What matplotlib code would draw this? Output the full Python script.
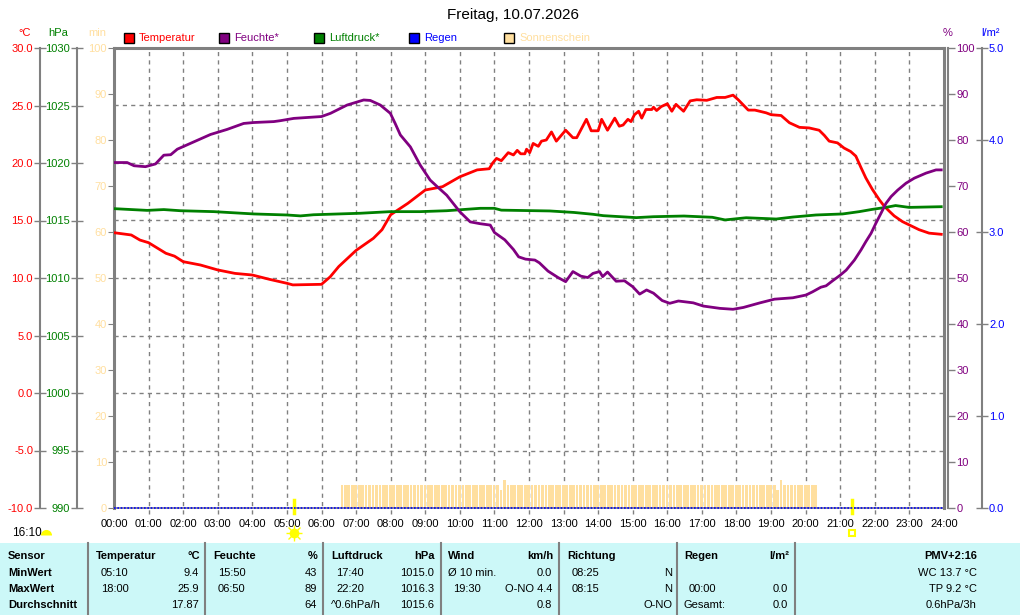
import numpy as np
import matplotlib
matplotlib.use("Agg")
import matplotlib.pyplot as plt
from matplotlib.patches import Rectangle
from matplotlib.lines import Line2D

plt.rcParams['font.family'] = ['Liberation Sans', 'DejaVu Sans']

# --- Daten (Stunden seit Mitternacht) ---
temp_h = [0, 0.5, 0.75, 1.0, 1.5, 1.75, 2.0, 2.5, 3.0, 3.5,
          4.0, 4.5, 5.0, 5.17, 6.0, 6.25, 6.5, 7.0, 7.5, 7.75,
          8.0, 8.5, 9.0, 9.5, 10.0, 10.5, 10.85, 10.95, 11.06, 11.2,
          11.4, 11.55, 11.66, 11.76, 11.88, 11.93, 12.02, 12.12, 12.27, 12.36,
          12.5, 12.65, 12.79, 13.06, 13.27, 13.38, 13.66, 13.8, 14.0, 14.1,
          14.27, 14.48, 14.61, 14.72, 14.86, 14.95, 15.05, 15.17, 15.26, 15.38,
          15.55, 15.6, 15.69, 15.82, 16.0, 16.13, 16.25, 16.47, 16.66, 16.85,
          17.14, 17.43, 17.67, 17.9, 18.05, 18.34, 18.53, 18.67, 18.86, 19.0,
          19.29, 19.53, 19.82, 20.1, 20.39, 20.54, 20.68, 20.92, 21.11, 21.3,
          21.45, 21.6, 21.74, 21.93, 22.13, 22.27, 22.42, 22.56, 22.8, 23.04,
          23.28, 23.57, 23.92]
temp_c = [13.94, 13.74, 13.3, 13.07, 12.15, 11.9, 11.42, 11.13, 10.7, 10.4,
          10.26, 9.88, 9.54, 9.4, 9.45, 10.1, 11.0, 12.4, 13.45, 14.2,
          15.5, 16.5, 17.65, 17.94, 18.8, 19.4, 19.5, 20.0, 20.4, 20.2,
          20.9, 20.7, 21.1, 20.8, 20.8, 21.2, 20.9, 21.7, 21.45, 21.9,
          22.0, 22.7, 21.9, 22.85, 22.2, 22.2, 23.8, 22.8, 22.8, 23.8,
          22.85, 23.9, 23.2, 23.3, 23.8, 23.6, 24.2, 24.5, 23.9, 24.65,
          24.65, 24.85, 24.56, 24.9, 25.15, 24.5, 25.1, 24.5, 25.4, 25.5,
          25.45, 25.7, 25.7, 25.9, 25.5, 24.6, 24.6, 24.5, 24.36, 24.2,
          24.13, 23.5, 23.1, 23.05, 22.85, 22.4, 21.9, 21.75, 21.3, 21.0,
          20.6, 19.6, 18.7, 17.7, 16.8, 16.25, 15.8, 15.4, 14.9, 14.55,
          14.2, 13.9, 13.8]

hum_h = [0, 0.38, 0.58, 0.91, 1.2, 1.44, 1.64, 1.83, 2.31, 2.79,
         3.27, 3.75, 4.04, 4.62, 4.81, 5.2, 6.0, 6.26, 6.74, 7.22,
         7.41, 7.7, 7.99, 8.13, 8.28, 8.57, 8.85, 9.14, 9.34, 9.62,
         10.0, 10.3, 10.59, 10.88, 11.0, 11.3, 11.55, 11.7, 11.9, 12.17,
         12.3, 12.55, 12.84, 13.06, 13.27, 13.5, 13.7, 13.85, 14.04, 14.13,
         14.27, 14.52, 14.76, 15.0, 15.2, 15.4, 15.6, 15.85, 16.07, 16.32,
         16.75, 17.04, 17.52, 17.9, 18.2, 18.68, 19.1, 19.63, 20.01, 20.2,
         20.44, 20.59, 20.78, 20.98, 21.17, 21.41, 21.6, 21.74, 21.89, 22.03,
         22.18, 22.32, 22.47, 22.66, 22.9, 23.14, 23.48, 23.77, 23.92]
hum_pct = [75.1, 75.1, 74.4, 74.2, 74.8, 76.7, 76.8, 78.0, 79.6, 81.2,
           82.3, 83.6, 83.8, 84.0, 84.2, 84.7, 85.1, 85.8, 87.6, 88.7,
           88.6, 87.6, 85.8, 83.6, 81.1, 78.5, 74.6, 71.3, 69.9, 68.0,
           64.4, 62.2, 61.8, 61.5, 59.9, 58.3, 56.2, 54.6, 54.1, 53.9,
           53.3, 51.5, 50.1, 49.2, 51.4, 50.4, 50.1, 51.0, 51.4, 50.3,
           51.3, 49.3, 49.4, 48.1, 46.5, 47.4, 46.7, 45.1, 44.5, 45.0,
           44.6, 43.9, 43.4, 43.2, 43.6, 44.6, 45.4, 45.7, 46.3, 47.0,
           48.0, 48.3, 49.4, 50.5, 51.7, 53.9, 56.1, 57.9, 59.7, 61.9,
           64.1, 66.2, 67.7, 69.1, 70.6, 71.7, 72.8, 73.5, 73.5]

pres_h = [0, 0.96, 1.44, 1.92, 2.89, 4.04, 5.0, 5.39, 5.77, 7.12,
          7.99, 8.85, 9.62, 10.59, 11.0, 11.2, 12.6, 13.3, 13.85, 14.15,
          15.1, 15.6, 16.48, 17.3, 17.67, 18.28, 19.15, 19.63, 20.3, 21.07,
          21.55, 21.93, 22.32, 22.6, 22.99, 23.92]
pres_hpa = [1016.03, 1015.88, 1015.95, 1015.85, 1015.77, 1015.57, 1015.48, 1015.4, 1015.5, 1015.63,
            1015.77, 1015.77, 1015.85, 1016.06, 1016.06, 1015.9, 1015.83, 1015.7, 1015.54, 1015.42,
            1015.25, 1015.33, 1015.39, 1015.28, 1015.05, 1015.24, 1015.13, 1015.3, 1015.48, 1015.57,
            1015.77, 1015.97, 1016.14, 1016.3, 1016.14, 1016.2]

rain_h = [0, 24]
rain_mm = [0.0, 0.0]

# Sonnenschein: 6-Minuten-Intervalle ab 06:33
sun_start_h = 6.55
sun_step_h = 0.1
sun_min = [5, 5, 5, 5, 5, 5, 5, 5, 5, 5,
           5, 5, 5, 5, 5, 5, 5, 5, 5, 5,
           5, 5, 5, 5, 5, 5, 5, 5, 5, 5,
           5, 5, 5, 5, 5, 5, 5, 5, 5, 5,
           5, 5, 5, 5, 5, 5, 4, 6, 5, 5,
           5, 5, 5, 5, 5, 5, 5, 5, 5, 5,
           5, 5, 5, 5, 5, 5, 5, 5, 5, 5,
           5, 5, 5, 5, 5, 5, 5, 5, 5, 5,
           5, 5, 5, 5, 5, 5, 5, 5, 5, 5,
           5, 5, 5, 5, 5, 5, 5, 5, 5, 5,
           5, 5, 5, 5, 5, 5, 5, 5, 5, 5,
           5, 5, 5, 5, 5, 5, 5, 5, 5, 5,
           5, 5, 5, 5, 5, 5, 4, 6, 5, 5,
           5, 5, 5, 5, 5, 5, 5, 5]

sunrise_h = 5.2
sunset_h = 21.33
day_length = "16:10"
title = "Freitag, 10.07.2026"

hour_labels = ["%02d:00" % h for h in range(25)]
temp_ticks = [-10, -5, 0, 5, 10, 15, 20, 25, 30]
pres_ticks = [990, 995, 1000, 1005, 1010, 1015, 1020, 1025, 1030]
pct_ticks = [0, 10, 20, 30, 40, 50, 60, 70, 80, 90, 100]
rain_ticks = [0, 1, 2, 3, 4, 5]

table_header = ["Sensor", "Temperatur", "°C", "Feuchte", "%", "Luftdruck", "hPa",
                "Wind", "km/h", "Richtung", "Regen", "l/m²", "PMV+2:16"]
row_names = ["MinWert", "MaxWert", "Durchschnitt"]
temp_stats = [("05:10", "9.4"), ("18:00", "25.9"), ("", "17.87")]
hum_stats = [("15:50", "43"), ("06:50", "89"), ("", "64")]
pres_stats = [("17:40", "1015.0"), ("22:20", "1016.3"), ("^0.6hPa/h", "1015.6")]
wind_stats = [("Ø 10 min.", "0.0"), ("19:30", "O-NO 4.4"), ("", "0.8")]
dir_stats = [("08:25", "N"), ("08:15", "N"), ("", "O-NO")]
rain_stats = [("", ""), ("00:00", "0.0"), ("Gesamt:", "0.0")]
pmv_stats = ["WC 13.7 °C", "TP 9.2 °C", "0.6hPa/3h"]

C_T = '#ff0000'
C_H = '#800080'
C_P = '#008000'
C_R = '#0000ff'
C_S = '#ffdf9f'
GRAY = '#808080'

W, H = 1024, 615
fig = plt.figure(figsize=(W / 100, H / 100), dpi=100)


def fx(x):
    return x / W


def fy(y):
    return 1 - y / H


ax = fig.add_axes([fx(114), fy(508), (944 - 114) / W, 460 / H])
ax.set_xlim(0, 24)
ax.set_ylim(0, 100)

# Sonnenschein-Balken
sun_h = sun_start_h + sun_step_h * np.arange(len(sun_min))
ax.bar(sun_h, sun_min, width=0.08, align='edge', color=C_S, zorder=1)

# Gitter
for t in temp_ticks[1:-1]:
    ax.axhline((t + 10) / 40 * 100, color=GRAY, lw=1, ls=(0, (3, 3)), zorder=0)
for h in range(1, 24):
    ax.plot([h, h], [-0.012, 1], transform=ax.get_xaxis_transform(), color=GRAY,
            lw=1, ls=(0, (3, 3)), clip_on=False, zorder=0)

ax.set_xticks(range(25), hour_labels)
ax.tick_params(axis='x', length=0, pad=8, labelsize=8)
ax.set_yticks(pct_ticks)
ax.tick_params(axis='y', colors=GRAY, labelcolor=C_S, direction='out', length=4,
               labelsize=8, pad=1)
for s in ['top', 'left', 'right']:
    ax.spines[s].set_color(GRAY)
    ax.spines[s].set_linewidth(2.2)
ax.spines['bottom'].set_color(GRAY)
ax.spines['bottom'].set_linewidth(1.2)


def side_axis(side, pos, color, lim, ticks, labels):
    a = ax.twinx()
    a.set_ylim(lim)
    for s in a.spines.values():
        s.set_visible(False)
    sp = a.spines[side]
    sp.set_visible(True)
    sp.set_position(pos)
    sp.set_color(GRAY)
    sp.set_linewidth(1.5)
    a.yaxis.set_ticks_position(side)
    a.yaxis.set_label_position(side)
    a.set_yticks(ticks, labels)
    a.tick_params(axis='y', colors=GRAY, labelcolor=color, direction='inout',
                  length=8, width=1, labelsize=8, pad=1)
    a.patch.set_visible(False)
    return a


ax_t = side_axis('left', ('axes', (40 - 114) / 830), C_T, (-10, 30), temp_ticks,
                 ["%.1f" % t for t in temp_ticks])
ax_p = side_axis('left', ('axes', (77 - 114) / 830), C_P, (990, 1030), pres_ticks,
                 [str(p) for p in pres_ticks])
ax_h = side_axis('right', ('outward', 3), C_H, (0, 100), pct_ticks,
                 [str(p) for p in pct_ticks])
ax_h.tick_params(axis='y', direction='out', length=5)
ax_r = side_axis('right', ('axes', (982 - 114) / 830), C_R, (0, 5), rain_ticks,
                 ["%.1f" % r for r in rain_ticks])

ax_r.plot(rain_h, rain_mm, color=C_R, lw=1.2, ls=(0, (1, 1)), clip_on=False)
ax_p.plot(pres_h, pres_hpa, color=C_P, lw=2)
ax_h.plot(hum_h, hum_pct, color=C_H, lw=2)
ax_t.plot(temp_h, temp_c, color=C_T, lw=2)
for a in (ax_t, ax_p, ax_h, ax_r):
    a.set_xlim(0, 24)

# Sonnenaufgang / -untergang
tr = ax.get_xaxis_transform()
for h in (sunrise_h, sunset_h):
    ax.plot([h, h], [0.017, -0.011], transform=tr, color='#ffff00', lw=2.5,
            clip_on=False, zorder=5)
ax.plot([sunrise_h], [-0.054], transform=tr, marker='o', ms=6, color='#ffff00',
        clip_on=False)
ax.plot([sunrise_h], [-0.054], transform=tr, marker='+', ms=11, mew=1, color='#ffff00',
        clip_on=False)
ax.plot([sunrise_h], [-0.054], transform=tr, marker='x', ms=8, mew=1, color='#ffff00',
        clip_on=False)
ax.plot([sunset_h], [-0.054], transform=tr, marker='s', ms=5, mfc='none', mec='#ffff00',
        mew=1.5, clip_on=False)

# Titel, Einheiten, Legende
fig.text(fx(513), fy(15), title, ha='center', va='center', fontsize=11)
fig.text(fx(25), fy(33), "°C", color=C_T, ha='center', va='center', fontsize=8)
fig.text(fx(58), fy(33), "hPa", color=C_P, ha='center', va='center', fontsize=8)
fig.text(fx(97), fy(33), "min", color=C_S, ha='center', va='center', fontsize=8)
fig.text(fx(948), fy(33), "%", color=C_H, ha='center', va='center', fontsize=8)
fig.text(fx(991), fy(33), "l/m²", color=C_R, ha='center', va='center', fontsize=8)

legend = [("Temperatur", C_T, 124), ("Feuchte*", C_H, 219), ("Luftdruck*", C_P, 314),
          ("Regen", C_R, 409), ("Sonnenschein", C_S, 504)]
for name, col, x0 in legend:
    fig.add_artist(Rectangle((fx(x0), fy(43)), 10 / W, 10 / H, transform=fig.transFigure,
                             facecolor=col, edgecolor='black', lw=1))
    fig.text(fx(x0 + 15), fy(38), name, color=col, ha='left', va='center', fontsize=8)

# Tageslaenge
fig.text(fx(12), fy(533), day_length, ha='left', va='center', fontsize=8.5)
fig.add_artist(Line2D([fx(46)], [fy(535)], transform=fig.transFigure, marker='o', ms=8,
                      color='#ffff00', fillstyle='top', mfc='#ffff00', mfcalt='none',
                      mew=0, ls='none'))

# Tabelle
fig.add_artist(Rectangle((0, 0), fx(1020), fy(543), transform=fig.transFigure,
                         facecolor='#ccf8f8', edgecolor='none', zorder=-1))
for xs in [88, 205, 323, 441, 559, 677, 795]:
    fig.add_artist(Line2D([fx(xs), fx(xs)], [fy(543), 0], transform=fig.transFigure,
                          color=GRAY, lw=1.5))

rows_y = [573, 589, 605]
hy = 556
fs = 8
fig.text(fx(8), fy(hy), table_header[0], fontweight='bold', va='center', fontsize=fs)
for name, y in zip(row_names, rows_y):
    fig.text(fx(8), fy(y), name, fontweight='bold', va='center', fontsize=fs)

blocks = [(96, 200, table_header[1], table_header[2], temp_stats),
          (213, 318, table_header[3], table_header[4], hum_stats),
          (331, 435, table_header[5], table_header[6], pres_stats),
          (448, 553, table_header[7], table_header[8], wind_stats),
          (567, 673, table_header[9], "", dir_stats),
          (684, 789, table_header[10], table_header[11], rain_stats)]
for x0, x1, head, unit, stats in blocks:
    fig.text(fx(x0), fy(hy), head, fontweight='bold', va='center', fontsize=fs)
    fig.text(fx(x1), fy(hy), unit, fontweight='bold', va='center', ha='right', fontsize=fs)
    for (left, right), y in zip(stats, rows_y):
        indent = 0 if (left.startswith('^') or left.startswith('Ø') or left.startswith('G')) else 5
        fig.text(fx(x0 + indent), fy(y), left, va='center', fontsize=fs)
        fig.text(fx(x1 - 1), fy(y), right, va='center', ha='right', fontsize=fs)

fig.text(fx(977), fy(hy), table_header[12], fontweight='bold', va='center', ha='right',
         fontsize=fs)
for txt, y in zip(pmv_stats, rows_y):
    fig.text(fx(977), fy(y), txt, va='center', ha='right', fontsize=fs)

fig.savefig("out.png", dpi=100, facecolor='white')
